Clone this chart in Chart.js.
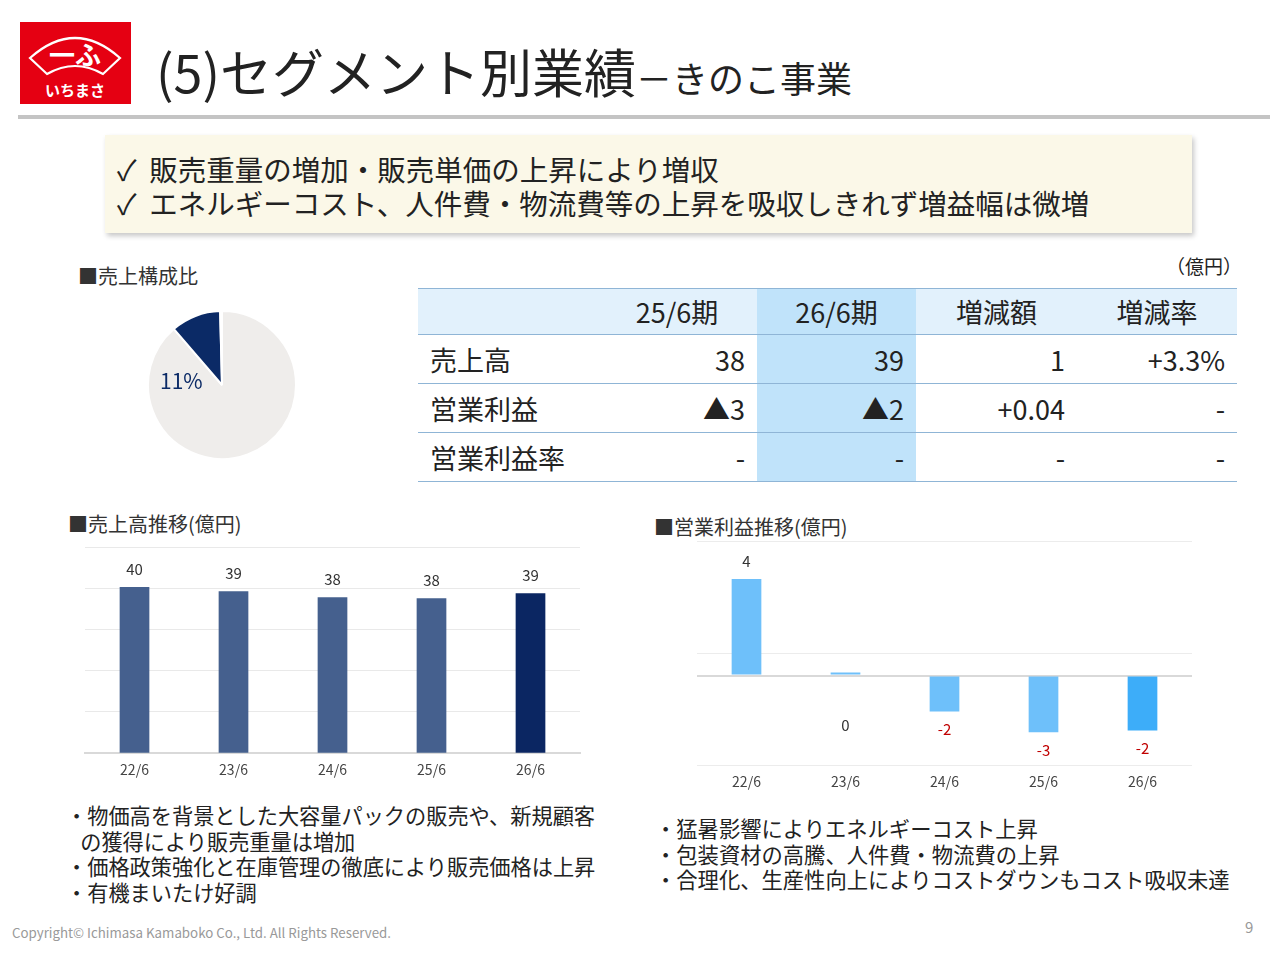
<!DOCTYPE html>
<html lang="ja">
<head>
<meta charset="utf-8">
<script src="https://cdn.jsdelivr.net/npm/chart.js@4"></script>
<style>
  body { margin: 0; background: #fff; font-family: "Noto Sans CJK JP", sans-serif; color: #222; }
  #page { position: relative; width: 1280px; height: 960px; overflow: hidden; }
  .abs { position: absolute; white-space: nowrap; }
  #rule { position: absolute; left: 18px; top: 115px; width: 1252px; height: 4px; background: #c4c4c4; }
  #box { position: absolute; left: 105px; top: 135px; width: 1087px; height: 98px; background: #fbf8e8;
         box-shadow: 2px 3px 5px rgba(0,0,0,0.22); }
  #box div { position: absolute; left: 12px; font-size: 28.5px; line-height: 34px; }
  .sec { font-size: 20px; color: #333; }
  table { position: absolute; left: 418px; top: 288px; border-collapse: collapse; font-size: 27px; }
  th, td { height: 48px; padding: 0 12px; border-bottom: 1.5px solid #8fb5d6; font-weight: normal; }
  th { background: #e2f1fc; text-align: center; height: 45px; border-top: 1.5px solid #8fb5d6; }
  td { text-align: right; }
  td.lab { text-align: left; padding-left: 12px; }
  .hl { background: #c0e3fa !important; }
  .bul { font-size: 21.2px; line-height: 25.5px; }
</style>
</head>
<body>
<div id="page">
  <svg class="abs" style="left:20px;top:22px" width="111" height="82" viewBox="0 0 111 82">
    <rect width="111" height="82" fill="#e50012"/>
    <path d="M10 36 Q55 -4 100 36 L83 52 Q55 36 27 52 Z" fill="none" stroke="#fff" stroke-width="2.2"/>
    <text x="55" y="43" text-anchor="middle" font-size="26" font-weight="bold" fill="#fff" font-family="Noto Sans CJK JP">一ふ</text>
    <text x="55" y="74" text-anchor="middle" font-size="15" font-weight="bold" fill="#fff" font-family="Noto Sans CJK JP">いちまさ</text>
  </svg>
  <div class="abs" style="left:156px;top:39px;font-size:52px;line-height:64px;color:#222">(5)セグメント別業績<span style="font-size:36px">－きのこ事業</span></div>
  <div id="rule"></div>

  <div id="box">
    <div style="top:17px">✓&nbsp;&nbsp;販売重量の増加・販売単価の上昇により増収</div>
    <div style="top:51px">✓&nbsp;&nbsp;エネルギーコスト、人件費・物流費等の上昇を吸収しきれず増益幅は微増</div>
  </div>

  <div class="abs sec" style="left:78px;top:261px">■売上構成比</div>
  <div class="abs" style="left:147px;top:310px;width:150px;height:150px"><canvas id="pieChart"></canvas></div>
  <div class="abs" style="left:160px;top:365px;font-size:21px;color:#0b2a66">11%</div>

  <div class="abs" style="left:1166px;top:252px;font-size:19px;color:#222">（億円）</div>
  <table id="tbl"></table>

  <div class="abs sec" style="left:68px;top:509px">■売上高推移(億円)</div>
  <div class="abs" style="left:60px;top:540px;width:540px;height:250px"><canvas id="salesChart"></canvas></div>

  <div class="abs sec" style="left:654px;top:512px">■営業利益推移(億円)</div>
  <div class="abs" style="left:660px;top:530px;width:560px;height:270px"><canvas id="profitChart"></canvas></div>

  <div class="abs bul" style="left:66px;top:802px">・物価高を背景とした大容量パックの販売や、新規顧客<br>&nbsp;&nbsp;&nbsp;の獲得により販売重量は増加<br>・価格政策強化と在庫管理の徹底により販売価格は上昇<br>・有機まいたけ好調</div>
  <div class="abs bul" style="left:655px;top:815px;font-size:21.3px">・猛暑影響によりエネルギーコスト上昇<br>・包装資材の高騰、人件費・物流費の上昇<br>・合理化、生産性向上によりコストダウンもコスト吸収未達</div>

  <div class="abs" style="left:12px;top:923px;font-size:13.3px;color:#999">Copyright© Ichimasa Kamaboko Co., Ltd. All Rights Reserved.</div>
  <div class="abs" style="left:1245px;top:916px;font-size:15px;color:#999">9</div>
</div>

<script>
// 売上構成比
const pieLabels = ['その他事業', 'きのこ事業', 'その他'];
const pieValues = [88.7, 10.9, 0.4];

// 業績表
const tableHeads = ['', '25/6期', '26/6期', '増減額', '増減率'];
const tableRows = [
  ['売上高', '38', '39', '1', '+3.3%'],
  ['営業利益', '▲3', '▲2', '+0.04', '-'],
  ['営業利益率', '-', '-', '-', '-']
];

// 推移グラフ
const periods = ['22/6', '23/6', '24/6', '25/6', '26/6'];
const salesValues = [40.3, 39.3, 37.8, 37.6, 38.8];
const profitValues = [4.3, 0.13, -1.6, -2.53, -2.45];

document.addEventListener("DOMContentLoaded", function() {

    // 表を組み立てる
    const widths = [179, 160, 159, 161, 160];
    const tbl = document.getElementById('tbl');
    let html = '<tr>' + tableHeads.map((h, i) =>
        `<th style="width:${widths[i] - 24}px" class="${i === 2 ? 'hl' : ''}">${h}</th>`).join('') + '</tr>';
    tableRows.forEach(r => {
        html += '<tr>' + r.map((c, i) =>
            `<td class="${i === 0 ? 'lab' : ''} ${i === 2 ? 'hl' : ''}">${c}</td>`).join('') + '</tr>';
    });
    tbl.innerHTML = html;

    Chart.defaults.font.family = '"Noto Sans CJK JP", sans-serif';
    Chart.defaults.animation = false;

    // 棒の上下に数値を描く
    const valueLabels = {
        id: 'valueLabels',
        afterDatasetsDraw(chart) {
            const ctx = chart.ctx;
            const meta = chart.getDatasetMeta(0);
            const zero = chart.scales.y.getPixelForValue(0);
            ctx.save();
            ctx.font = '15px "Noto Sans CJK JP"';
            ctx.textAlign = 'center';
            ctx.textBaseline = 'middle';
            meta.data.forEach((bar, i) => {
                const v = chart.data.datasets[0].data[i];
                const txt = String(Math.round(v));
                if (v >= 1) {
                    ctx.fillStyle = '#333';
                    ctx.fillText(txt, bar.x, bar.y - 18);
                } else {
                    ctx.fillStyle = v <= -0.5 ? '#c00000' : '#333';
                    ctx.fillText(txt, bar.x, Math.max(bar.y + 18, zero + 50));
                }
            });
            ctx.restore();
        }
    };

    new Chart(document.getElementById('pieChart'), {
        type: 'pie',
        data: {
            labels: pieLabels,
            datasets: [{
                data: pieValues,
                backgroundColor: ['#efedeb', '#0b2a66', '#0b2a66'],
                borderColor: '#fff',
                borderWidth: 2
            }]
        },
        options: {
            responsive: true,
            maintainAspectRatio: false,
            plugins: { legend: { display: false }, tooltip: { enabled: false } }
        }
    });

    new Chart(document.getElementById('salesChart'), {
        type: 'bar',
        data: {
            labels: periods,
            datasets: [{
                data: salesValues,
                backgroundColor: ['#45608e', '#45608e', '#45608e', '#45608e', '#0b2662'],
                barPercentage: 0.6,
                categoryPercentage: 0.5
            }]
        },
        options: {
            responsive: true,
            maintainAspectRatio: false,
            layout: { padding: { left: 25, right: 20, top: 7, bottom: 12 } },
            plugins: { legend: { display: false }, tooltip: { enabled: false } },
            scales: {
                x: {
                    grid: { display: false },
                    border: { color: '#d9d9d9', width: 2 },
                    ticks: { color: '#444', font: { size: 14 }, padding: 0 }
                },
                y: {
                    min: 0, max: 50,
                    ticks: { display: false, stepSize: 10 },
                    border: { display: false },
                    grid: { color: '#e9e9e9', drawTicks: false }
                }
            }
        },
        plugins: [valueLabels]
    });

    new Chart(document.getElementById('profitChart'), {
        type: 'bar',
        data: {
            labels: periods,
            datasets: [{
                data: profitValues,
                backgroundColor: ['#6ec0fa', '#6ec0fa', '#6ec0fa', '#6ec0fa', '#3dadf9'],
                barPercentage: 0.6,
                categoryPercentage: 0.5
            }]
        },
        options: {
            responsive: true,
            maintainAspectRatio: false,
            layout: { padding: { left: 37, right: 28, top: 11, bottom: 10 } },
            plugins: { legend: { display: false }, tooltip: { enabled: false } },
            scales: {
                x: {
                    grid: { display: false },
                    border: { display: false },
                    ticks: { color: '#444', font: { size: 14 }, padding: 0 }
                },
                y: {
                    min: -4, max: 6,
                    afterBuildTicks: axis => { axis.ticks = [-4, 0, 1, 6].map(v => ({ value: v })); },
                    ticks: { display: false },
                    border: { display: false },
                    grid: {
                        drawTicks: false,
                        color: c => c.tick.value === 0 ? '#d9d9d9' : '#ececec',
                        lineWidth: c => c.tick.value === 0 ? 2 : 1
                    }
                }
            }
        },
        plugins: [valueLabels]
    });
});
</script>
</body>
</html>
